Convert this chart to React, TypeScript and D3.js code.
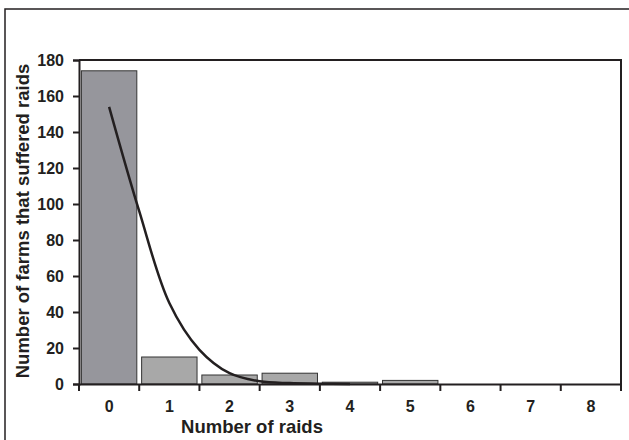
import React, { useEffect, useRef } from "react";
import * as d3 from "d3";

// number of raids per farm (categories) and observed counts
const raidCounts = [0, 1, 2, 3, 4, 5, 6, 7, 8];
const farmCounts = [174, 15, 5, 6, 1, 2, 0, 0, 0];

// fitted curve
const curveX = [0, 0.5, 1, 1.5, 2, 2.5, 3, 3.5, 4];
const curveY = [154, 96, 45, 19, 6, 1.5, 0.5, 0.2, 0];

const yTicks = [0, 20, 40, 60, 80, 100, 120, 140, 160, 180];

const App = () => {
  const chartRef = useRef<SVGSVGElement | null>(null);

  useEffect(() => {
    const svg = d3.select(chartRef.current);
    svg.selectAll("*").remove();

    const width = 629;
    const height = 440;
    const margin = { top: 60, right: 8, bottom: 56, left: 79 };
    const ink = "#231f20";
    const font = "'Liberation Sans', Arial, sans-serif";

    // outer frame, runs off the right and bottom edge
    svg
      .append("rect")
      .attr("x", 5)
      .attr("y", 9)
      .attr("width", width + 10)
      .attr("height", height + 10)
      .attr("fill", "none")
      .attr("stroke", ink)
      .attr("stroke-width", 1.5);

    const x = d3
      .scaleBand<number>()
      .domain(raidCounts)
      .range([margin.left, width - margin.right])
      .paddingInner(0.08)
      .paddingOuter(0.04);

    // continuous version of the x axis for the curve
    const xc = d3
      .scaleLinear()
      .domain([-0.5, raidCounts.length - 0.5])
      .range([margin.left, width - margin.right]);

    const y = d3
      .scaleLinear()
      .domain([0, 180])
      .range([height - margin.bottom, margin.top]);

    // bars
    svg
      .append("g")
      .selectAll("rect")
      .data(raidCounts)
      .enter()
      .append("rect")
      .attr("x", (d) => x(d)!)
      .attr("y", (d, i) => y(farmCounts[i]))
      .attr("width", x.bandwidth())
      .attr("height", (d, i) => y(0) - y(farmCounts[i]))
      .style("fill", (d) => (d === 0 ? "#96969c" : "#a8a8a8"))
      .style("stroke", (d, i) => (farmCounts[i] > 0 ? "#333" : "none"))
      .style("stroke-width", 1);

    // fitted curve
    const line = d3
      .line<number>()
      .x((d) => xc(d))
      .y((d, i) => y(curveY[i]))
      .curve(d3.curveCatmullRom.alpha(0.5));

    svg
      .append("path")
      .attr("d", line(curveX))
      .attr("fill", "none")
      .attr("stroke", ink)
      .attr("stroke-width", 2.5);

    // plot frame: top and right edges
    svg
      .append("path")
      .attr(
        "d",
        `M${margin.left},${margin.top}H${width - margin.right}V${height - margin.bottom}`
      )
      .attr("fill", "none")
      .attr("stroke", ink)
      .attr("stroke-width", 2);

    // y axis
    const yAxis = svg
      .append("g")
      .attr("transform", `translate(${margin.left},0)`)
      .call(d3.axisLeft(y).tickValues(yTicks).tickSize(6).tickPadding(9));
    yAxis.select(".domain").attr("stroke", ink).attr("stroke-width", 2);
    yAxis.selectAll("line").attr("stroke", ink).attr("stroke-width", 2);
    yAxis
      .selectAll("text")
      .attr("fill", ink)
      .style("font-family", font)
      .style("font-size", "16px")
      .style("font-weight", "bold");

    // x axis: ticks sit on the category boundaries
    const xAxis = svg
      .append("g")
      .attr("transform", `translate(0,${height - margin.bottom})`)
      .call(d3.axisBottom(x).tickSize(0).tickPadding(17));
    xAxis.select(".domain").attr("stroke", ink).attr("stroke-width", 2);
    xAxis
      .selectAll("text")
      .attr("fill", ink)
      .style("font-family", font)
      .style("font-size", "16px")
      .style("font-weight", "bold");

    xAxis
      .selectAll("line.bound")
      .data(d3.range(raidCounts.length + 1))
      .enter()
      .append("line")
      .attr("class", "bound")
      .attr("x1", (d) => xc(d - 0.5))
      .attr("x2", (d) => xc(d - 0.5))
      .attr("y1", 0)
      .attr("y2", 7)
      .attr("stroke", ink)
      .attr("stroke-width", 2);

    // axis titles
    svg
      .append("text")
      .attr("x", 252)
      .attr("y", 433)
      .attr("text-anchor", "middle")
      .attr("fill", ink)
      .style("font-family", font)
      .style("font-size", "18.5px")
      .style("font-weight", "bold")
      .text("Number of raids");

    svg
      .append("text")
      .attr("transform", "translate(29,221) rotate(-90)")
      .attr("text-anchor", "middle")
      .attr("fill", ink)
      .style("font-family", font)
      .style("font-size", "18.5px")
      .style("font-weight", "bold")
      .text("Number of farms that suffered raids");
  }, []);

  return (
    <svg
      ref={chartRef}
      width={629}
      height={440}
      style={{ position: "absolute", left: 0, top: 0, background: "#fff" }}
    />
  );
};

export default App;
